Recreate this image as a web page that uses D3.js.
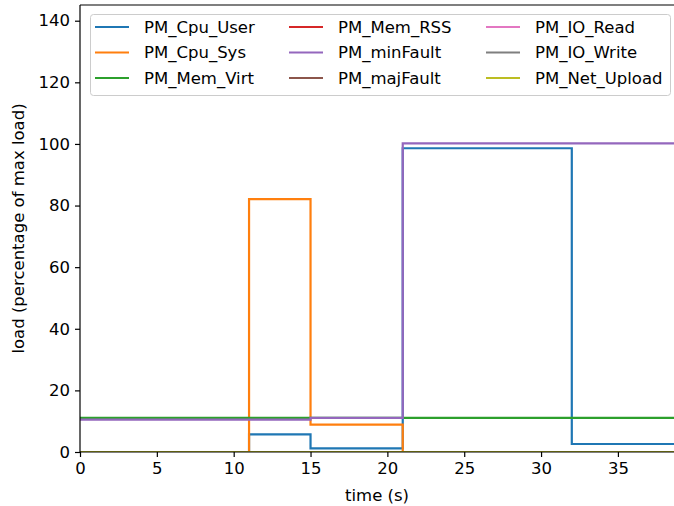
<!DOCTYPE html>
<html>
  <head>
    <script src="https://d3js.org/d3.v7.min.js"></script>
    <style>
      body { margin: 0; background: #fff; }
      text { font-family: "DejaVu Sans", sans-serif; fill: #000; }
    </style>
  </head>
  <body>
    <script>

    // change points (s); each value holds until the next change point
    const times = [0, 11, 15, 21, 32, 40];

    const names = ["PM_Cpu_User", "PM_Cpu_Sys", "PM_Mem_Virt", "PM_Mem_RSS", "PM_minFault",
                   "PM_majFault", "PM_IO_Read", "PM_IO_Write", "PM_Net_Upload"];

    const cpuUser = [0, 5.7, 1.2, 98.6, 2.6, 2.6];
    const cpuSys = [0, 82.1, 8.9, 0, 0, 0];
    const memVirt = [11.1, 11.1, 11.1, 11.1, 11.1, 11.1];
    const memRss = [0, 0, 0, 0, 0, 0];
    const minFault = [10.5, 10.5, 11.1, 100.2, 100.2, 100.2];
    const majFault = [0, 0, 0, 0, 0, 0];
    const ioRead = [0, 0, 0, 0, 0, 0];
    const ioWrite = [0, 0, 0, 0, 0, 0];
    const netUpload = [0, 0, 0, 0, 0, 0];

    const series = [cpuUser, cpuSys, memVirt, memRss, minFault, majFault, ioRead, ioWrite, netUpload];
    const colors = ["#1f77b4", "#ff7f0e", "#2ca02c", "#d62728", "#9467bd",
                    "#8c564b", "#e377c2", "#7f7f7f", "#bcbd22"];

    const xTicks = [0, 5, 10, 15, 20, 25, 30, 35];
    const yTicks = [0, 20, 40, 60, 80, 100, 120, 140];

    const width = 674, height = 506;
    const mLeft = 80, mRight = 674, mTop = 5, mBottom = 452;
    const fs = "16.5px";

    const x = d3.scaleLinear().domain([0, 38.65]).range([mLeft, mRight]);
    const y = d3.scaleLinear().domain([0, 145.1]).range([mBottom, mTop]);

    const svg = d3.select("body").append("svg")
        .attr("width", width)
        .attr("height", height);

    svg.append("defs").append("clipPath").attr("id", "clip")
      .append("rect").attr("x", mLeft).attr("y", mTop)
        .attr("width", mRight - mLeft).attr("height", mBottom - mTop);

    const line = d3.line()
        .x(d => x(d[0]))
        .y(d => y(d[1]))
        .curve(d3.curveStepAfter);

    svg.append("g").attr("clip-path", "url(#clip)")
      .selectAll("path")
      .data(series)
      .enter().append("path")
        .attr("d", s => line(times.map((t, i) => [t, s[i]])))
        .attr("fill", "none")
        .attr("stroke", (s, i) => colors[i])
        .attr("stroke-width", 2.2);

    // axes
    const xAxis = svg.append("g")
        .attr("transform", `translate(0,${mBottom})`)
        .call(d3.axisBottom(x).tickValues(xTicks).tickSize(5).tickPadding(5));
    const yAxis = svg.append("g")
        .attr("transform", `translate(${mLeft},0)`)
        .call(d3.axisLeft(y).tickValues(yTicks).tickSize(5).tickPadding(5));

    [xAxis, yAxis].forEach(a => {
      a.select(".domain").remove();
      a.selectAll(".tick line").attr("stroke", "#000").attr("stroke-width", 1.2);
      a.selectAll(".tick text").style("font-size", fs).style("font-family", "DejaVu Sans");
    });

    // spines
    svg.append("line").attr("x1", mLeft).attr("x2", mLeft).attr("y1", mTop).attr("y2", mBottom)
        .attr("stroke", "#000").attr("stroke-width", 1.2);
    svg.append("line").attr("x1", mLeft).attr("x2", mRight).attr("y1", mBottom).attr("y2", mBottom)
        .attr("stroke", "#000").attr("stroke-width", 1.2);
    svg.append("line").attr("x1", mLeft).attr("x2", mRight).attr("y1", mTop).attr("y2", mTop)
        .attr("stroke", "#000").attr("stroke-width", 1.2);

    svg.append("text")
        .attr("x", (mLeft + mRight) / 2)
        .attr("y", 501)
        .attr("text-anchor", "middle")
        .style("font-size", fs)
        .text("time (s)");

    svg.append("text")
        .attr("transform", `translate(24,${(mTop + mBottom) / 2}) rotate(-90)`)
        .attr("text-anchor", "middle")
        .style("font-size", fs)
        .text("load (percentage of max load)");

    // legend
    const legend = svg.append("g");
    legend.append("rect")
        .attr("x", 90.5).attr("y", 14.5)
        .attr("width", 580).attr("height", 81)
        .attr("rx", 3)
        .attr("fill", "#fff").attr("fill-opacity", 0.8)
        .attr("stroke", "#ccc");

    const colX = [95, 289, 486];
    const rowY = [27, 52.5, 78];
    const items = legend.selectAll("g.item")
      .data(names)
      .enter().append("g")
        .attr("transform", (d, i) => `translate(${colX[Math.floor(i / 3)]},${rowY[i % 3]})`);
    items.append("line")
        .attr("x1", 0).attr("x2", 34)
        .attr("stroke", (d, i) => colors[i])
        .attr("stroke-width", 2.2);
    items.append("text")
        .attr("x", 49)
        .attr("dy", "0.35em")
        .style("font-size", fs)
        .text(d => d);

    </script>
  </body>
</html>
